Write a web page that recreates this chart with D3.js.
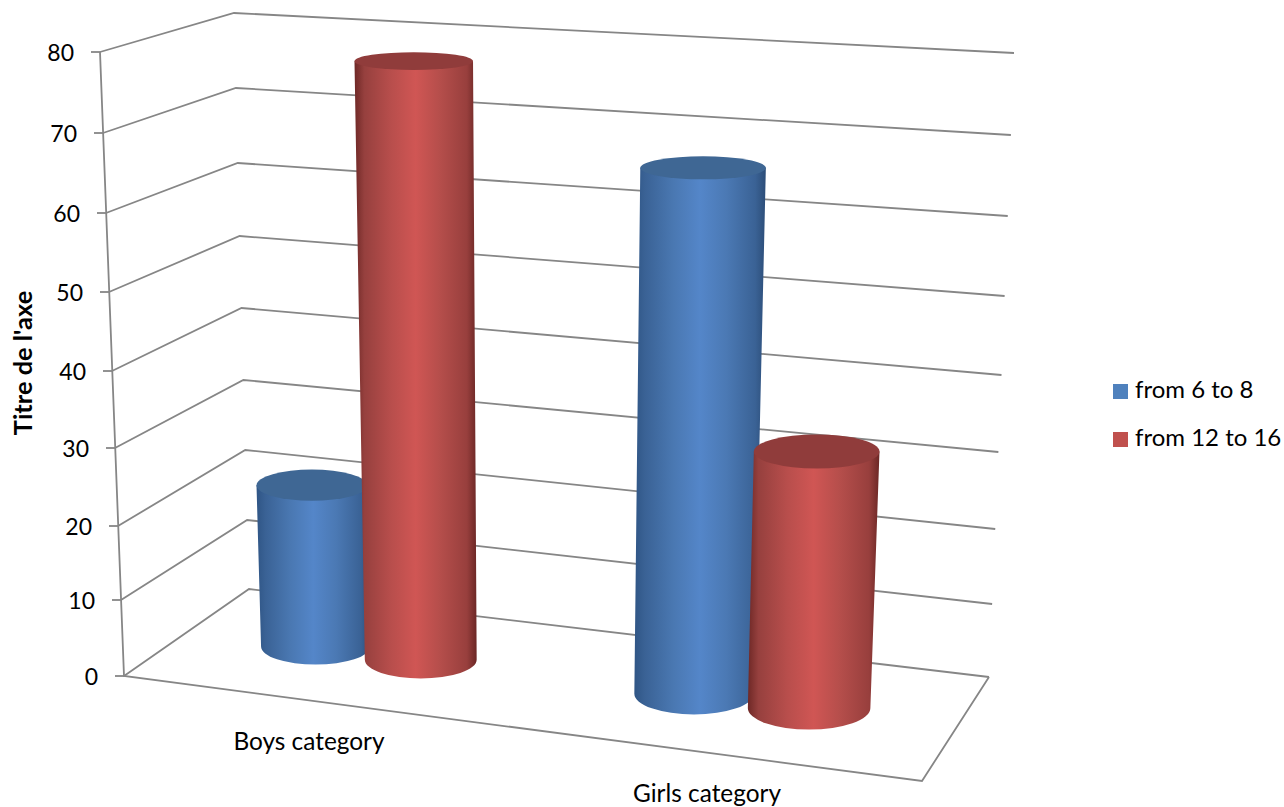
<!DOCTYPE html>
<html>
<head>
<meta charset="utf-8">
<script src="https://cdn.jsdelivr.net/npm/d3@7"></script>
<style>
  html, body { margin: 0; padding: 0; background: #fff; }
  svg { display: block; }
  text { font-family: Lato, "Open Sans", sans-serif; fill: #000; }
</style>
</head>
<body>
<svg id="chart" width="1284" height="807"></svg>
<script>
// Chart data
const categories = ["Boys category", "Girls category"];
const seriesNames = ["from 6 to 8", "from 12 to 16"];
const from6to8 = [22, 67];
const from12to16 = [78, 33];
const tickValues = [0, 10, 20, 30, 40, 50, 60, 70, 80];
const axisTitle = "Titre de l'axe";

// Box edges of the 3D plot area, one scale per vertical edge
const edge = (xs, ys) => ({
  x: d3.scaleLinear().domain([0, 80]).range(xs),
  y: d3.scaleLinear().domain(tickValues).range(ys)
});
const frontLeft = edge([124, 100], [676, 600, 526, 448, 371, 292, 213, 133, 52]);
const backLeft = edge([249, 234], [589, 520, 450, 380, 308, 236, 163, 88, 13]);
const backRight = edge([989, 1014], [677, 604, 529, 452, 375, 296, 216, 135, 53]);
const floorFrontRight = [922, 781];
const pt = (e, v) => [e.x(v), e.y(v)];

// Projective map from the unit floor square (u across, v into depth) to the screen
function floorProjection(p0, p1, p2, p3) {
  const sx = p0[0] - p1[0] + p2[0] - p3[0], sy = p0[1] - p1[1] + p2[1] - p3[1];
  const dx1 = p1[0] - p2[0], dx2 = p3[0] - p2[0], dy1 = p1[1] - p2[1], dy2 = p3[1] - p2[1];
  const den = dx1 * dy2 - dx2 * dy1;
  const g = (sx * dy2 - dx2 * sy) / den, h = (dx1 * sy - sx * dy1) / den;
  const a = p1[0] - p0[0] + g * p1[0], b = p3[0] - p0[0] + h * p3[0];
  const d = p1[1] - p0[1] + g * p1[1], e = p3[1] - p0[1] + h * p3[1];
  return (u, v) => {
    const w = g * u + h * v + 1;
    return [(a * u + b * v + p0[0]) / w, (d * u + e * v + p0[1]) / w];
  };
}
const floor = floorProjection(pt(frontLeft, 0), floorFrontRight, pt(backRight, 0), pt(backLeft, 0));

// Category and series positions along the floor
const x0 = d3.scaleBand().domain(categories).range([-0.0007, 0.9993]);
const x1 = d3.scaleBand().domain(seriesNames).range([0, x0.bandwidth()]).paddingOuter(0.742);
// Share of the full wall height reached by a value
const heightShare = d3.scaleLinear()
  .domain(tickValues)
  .range(tickValues.map(t => (backLeft.y(0) - backLeft.y(t)) / (backLeft.y(0) - backLeft.y(80))));

const bars = [];
categories.forEach((c, i) => {
  bars.push({ category: c, series: seriesNames[0], value: from6to8[i] });
  bars.push({ category: c, series: seriesNames[1], value: from12to16[i] });
});

const svg = d3.select("#chart");
const defs = svg.append("defs");

// Side shading of the cylinders
const sideStops = {
  [seriesNames[0]]: [[0, "#2f5585"], [0.08, "#3a6295"], [0.3, "#4a78b2"], [0.5, "#5486c9"], [0.7, "#4b79b4"], [0.92, "#3a6295"], [1, "#2c4d78"]],
  [seriesNames[1]]: [[0, "#6e2826"], [0.08, "#96403e"], [0.3, "#b84e4c"], [0.5, "#d05654"], [0.7, "#b54e4b"], [0.92, "#983f3d"], [1, "#6b2725"]]
};
const topFill = { [seriesNames[0]]: "#3f6794", [seriesNames[1]]: "#903c3b" };
const swatchFill = { [seriesNames[0]]: "#4f81bd", [seriesNames[1]]: "#c0504d" };
seriesNames.forEach((s, i) => {
  defs.append("linearGradient").attr("id", "side" + i)
    .selectAll("stop").data(sideStops[s]).join("stop")
    .attr("offset", d => d[0]).attr("stop-color", d => d[1]);
});

// Walls and floor
const gridColor = "#868686";
const gridWidth = 1.8;
const grid = svg.append("g").attr("fill", "none").attr("stroke", gridColor).attr("stroke-width", gridWidth);
const polyline = d3.line();
grid.selectAll("path.wall").data(tickValues).join("path").attr("class", "wall")
  .attr("d", t => polyline([pt(frontLeft, t), pt(backLeft, t), pt(backRight, t)]));
grid.append("path").attr("d", polyline([pt(frontLeft, 80), pt(frontLeft, 0), floorFrontRight, pt(backRight, 0)]));

// Value axis, each tick sitting on the slanted front edge
const axis = svg.append("g")
  .call(d3.axisLeft(frontLeft.y).tickValues(tickValues).tickSize(9).tickPadding(17).tickFormat(d3.format("d")));
axis.select(".domain").remove();
axis.attr("font-family", null).attr("font-size", null);
axis.selectAll(".tick").attr("transform", t => `translate(${frontLeft.x(t)},${frontLeft.y(t)})`);
axis.selectAll(".tick line").attr("stroke", gridColor).attr("stroke-width", gridWidth);
axis.selectAll(".tick text").style("font-size", "23px").attr("dy", "0.39em");

// Cylinders, rear series first so the nearer one overlaps it
const radiusU = x1.bandwidth() / 2;
const drawnRadius = radiusU * 1.05;
const depth = 0.5;
const tilt = y => 0.15 + (y - 62) * 0.00031;
bars.forEach(b => {
  const u = x0(b.category) + x1(b.series) + radiusU;
  const [bx, by] = floor(u, depth);
  const [lx] = floor(u - drawnRadius, depth), [rx2] = floor(u + drawnRadius, depth);
  const rxBase = (rx2 - lx) / 2;
  const full = 576 + (by - 589) * 0.545;
  const h = heightShare(b.value) * full;
  const ty = by - h;
  const tx = bx + (bx - 531) * 1.06e-4 * h;
  const rxTop = rxBase * (1 + h * 1e-4);
  const ryBase = rxBase * tilt(by), ryTop = rxTop * tilt(ty);
  const g = svg.append("g");
  g.append("path")
    .attr("fill", `url(#side${seriesNames.indexOf(b.series)})`)
    .attr("d", `M${tx - rxTop},${ty} L${bx - rxBase},${by} A${rxBase},${ryBase} 0 0 0 ${bx + rxBase},${by} L${tx + rxTop},${ty} Z`);
  g.append("ellipse")
    .attr("cx", tx).attr("cy", ty).attr("rx", rxTop).attr("ry", ryTop)
    .attr("fill", topFill[b.series]);
});

// Category labels follow the slope of the floor
const categoryLabelPos = { [categories[0]]: [309, 750], [categories[1]]: [707, 802] };
svg.append("g").selectAll("text").data(categories).join("text")
  .attr("x", c => categoryLabelPos[c][0]).attr("y", c => categoryLabelPos[c][1])
  .attr("text-anchor", "middle").style("font-size", "24.4px").text(c => c);

// Axis title
svg.append("text")
  .attr("transform", "translate(32,363) rotate(-90)")
  .attr("text-anchor", "middle").style("font-size", "25.4px").style("font-weight", "700")
  .text(axisTitle);

// Legend
const legend = svg.append("g").selectAll("g").data(seriesNames).join("g")
  .attr("transform", (s, i) => `translate(1113,${384 + i * 48})`);
legend.append("rect").attr("width", 15).attr("height", 15).attr("fill", s => swatchFill[s]);
legend.append("text").attr("x", 22).attr("y", 14).style("font-size", "24px").text(s => s);
</script>
</body>
</html>
